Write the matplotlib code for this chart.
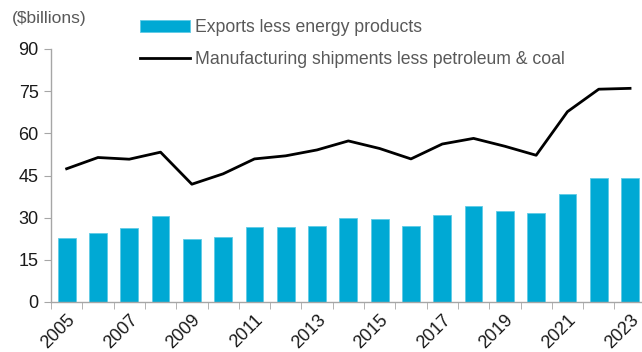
import numpy as np
import matplotlib.pyplot as plt

years = list(range(2005, 2024))
exports = [22.7, 24.4, 26.3, 30.7, 22.4, 23.0, 26.7, 26.8, 26.9, 29.8, 29.5,
           27.2, 30.8, 34.0, 32.5, 31.6, 38.3, 44.0, 44.0]
shipments = [47.4, 51.4, 50.8, 53.3, 41.9, 45.6, 50.9, 52.0, 54.1, 57.3, 54.6,
             50.9, 56.2, 58.2, 55.4, 52.2, 67.7, 75.7, 76.0]
yticks = [0, 15, 30, 45, 60, 75, 90]

plt.rcParams['font.family'] = ['Liberation Sans', 'DejaVu Sans']

fig = plt.figure(figsize=(6.42, 3.52), dpi=100)
ax = fig.add_axes([51 / 642, 1 - 302 / 352, 594.7 / 642, 253 / 352])

x = np.arange(len(years))
bars = ax.bar(x, exports, width=0.57, color='#00A9D4', edgecolor='#5FCBE6',
              linewidth=0.6, label='Exports less energy products', zorder=2)
line, = ax.plot(x, shipments, color='black', lw=2.0,
                label='Manufacturing shipments less petroleum & coal', zorder=3)

ax.set_xlim(-0.5, len(years) - 0.5)
ax.set_ylim(0, 90)
ax.set_yticks(yticks)
ax.set_yticklabels([str(v) for v in yticks], fontsize=13, color='#1a1a1a')
ax.tick_params(axis='y', length=5, color='#a6a6a6', pad=4)

ax.set_xticks(x[::2])
ax.set_xticklabels([str(y) for y in years[::2]], rotation=45, ha='right',
                   rotation_mode='anchor', fontsize=13, color='#1a1a1a')
ax.tick_params(axis='x', which='major', length=0, pad=7)
ax.set_xticks(np.arange(-0.5, len(years), 1), minor=True)
ax.tick_params(axis='x', which='minor', length=5, color='#a6a6a6')

for s in ['top', 'right']:
    ax.spines[s].set_visible(False)
for s in ['left', 'bottom']:
    ax.spines[s].set_color('#a6a6a6')
    ax.spines[s].set_linewidth(1)

fig.text(12 / 642, 1 - 19 / 352, '($billions)', fontsize=12.5, color='#595959',
         va='center', ha='left')

leg = fig.legend([bars, line], [bars.get_label(), line.get_label()],
                 loc='upper left', bbox_to_anchor=(124 / 642, 1 - 3 / 352),
                 frameon=False, fontsize=12.7, labelcolor='#595959',
                 handlelength=2.85, handletextpad=0.3, labelspacing=0.85)

fig.savefig('out.png', dpi=100)
